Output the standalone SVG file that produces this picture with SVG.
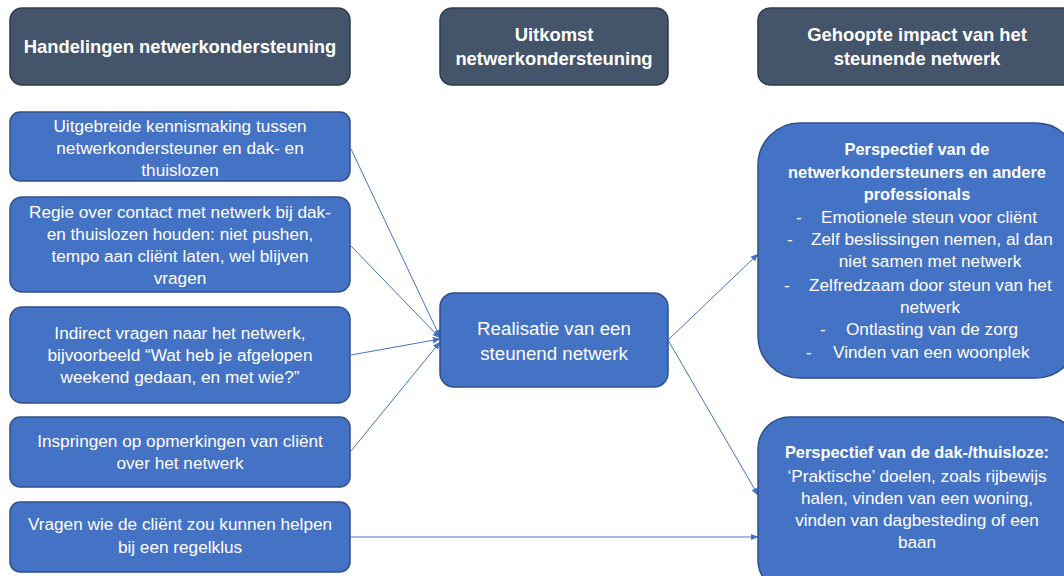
<svg xmlns="http://www.w3.org/2000/svg" width="1064" height="576" viewBox="0 0 1064 576">
<style>
.hdr{fill:#44546A;stroke:#2F3B4C;stroke-width:1.5}
.box{fill:#4472C4;stroke:#2F4F8A;stroke-width:1.5}
text{font-family:"Liberation Sans",Arial,sans-serif;fill:#fff}
.ht{font-size:18.4px;font-weight:bold;text-anchor:middle}
.t{font-size:17.2px;text-anchor:middle}
.tb{font-size:16.4px;font-weight:bold;text-anchor:middle}
.ts{font-size:17.2px}
.big{font-size:18.7px;text-anchor:middle}
.con{stroke:#4472C4;stroke-width:1;fill:none;marker-end:url(#ah)}
</style>
<defs>
<marker id="ah" viewBox="0 0 10 10" refX="9" refY="5" markerWidth="8" markerHeight="8" markerUnits="userSpaceOnUse" orient="auto">
<path d="M0,1 L10,5 L0,9 z" fill="#4472C4"/>
</marker>
</defs>
<rect width="1064" height="576" fill="#fff"/>
<g id="connectors">
<line class="con" x1="351" y1="149" x2="440" y2="337"/>
<line class="con" x1="351" y1="246" x2="440" y2="338"/>
<line class="con" x1="351" y1="355" x2="440" y2="339"/>
<line class="con" x1="351" y1="451" x2="440" y2="342"/>
<line class="con" x1="668" y1="340" x2="758" y2="254"/>
<line class="con" x1="668" y1="340" x2="758" y2="495"/>
<line class="con" x1="351" y1="537" x2="758" y2="537"/>
</g>
<g id="hdr-left">
<rect class="hdr" x="10" y="8" width="340" height="77" rx="12"/>
<text class="ht" x="180" y="53">Handelingen netwerkondersteuning</text>
</g>
<g id="hdr-mid">
<rect class="hdr" x="440" y="8" width="228" height="77" rx="12"/>
<text class="ht" x="554" y="41">Uitkomst</text>
<text class="ht" x="554" y="65">netwerkondersteuning</text>
</g>
<g id="hdr-right">
<rect class="hdr" x="758" y="8" width="320" height="77" rx="12"/>
<text class="ht" x="917" y="41">Gehoopte impact van het</text>
<text class="ht" x="917" y="65">steunende netwerk</text>
</g>
<g id="n1">
<rect class="box" x="10" y="112" width="340" height="69" rx="10"/>
<text class="t" x="180" y="132">Uitgebreide kennismaking tussen</text>
<text class="t" x="180" y="154">netwerkondersteuner en dak- en</text>
<text class="t" x="180" y="176">thuislozen</text>
</g>
<g id="n2">
<rect class="box" x="10" y="197" width="340" height="95" rx="12"/>
<text class="t" x="180" y="218">Regie over contact met netwerk bij dak-</text>
<text class="t" x="180" y="240">en thuislozen houden: niet pushen,</text>
<text class="t" x="180" y="262">tempo aan cliënt laten, wel blijven</text>
<text class="t" x="180" y="284">vragen</text>
</g>
<g id="n3">
<rect class="box" x="10" y="307" width="340" height="96" rx="12"/>
<text class="t" x="180" y="339">Indirect vragen naar het netwerk,</text>
<text class="t" x="180" y="361">bijvoorbeeld “Wat heb je afgelopen</text>
<text class="t" x="180" y="383">weekend gedaan, en met wie?”</text>
</g>
<g id="n4">
<rect class="box" x="10" y="417" width="340" height="70" rx="10"/>
<text class="t" x="180" y="447">Inspringen op opmerkingen van cliënt</text>
<text class="t" x="180" y="469">over het netwerk</text>
</g>
<g id="n5">
<rect class="box" x="10" y="502" width="340" height="70" rx="10"/>
<text class="t" x="180" y="530">Vragen wie de cliënt zou kunnen helpen</text>
<text class="t" x="180" y="553">bij een regelklus</text>
</g>
<g id="mid">
<rect class="box" x="440" y="293" width="228" height="94" rx="14"/>
<text class="big" x="554" y="335">Realisatie van een</text>
<text class="big" x="554" y="360">steunend netwerk</text>
</g>
<g id="r1">
<rect class="box" x="758" y="123" width="320" height="255" rx="42"/>
<text class="tb" x="917" y="155">Perspectief van de</text>
<text class="tb" x="917" y="178">netwerkondersteuners en andere</text>
<text class="tb" x="917" y="200">professionals</text>
<text class="ts" x="796" y="223">-</text><text class="ts" x="821" y="223">Emotionele steun voor cliënt</text>
<text class="ts" x="787" y="245">-</text><text class="ts" x="811" y="245">Zelf beslissingen nemen, al dan</text>
<text class="t" x="930" y="267">niet samen met netwerk</text>
<text class="ts" x="784" y="291">-</text><text class="ts" x="809" y="291">Zelfredzaam door steun van het</text>
<text class="t" x="930" y="313">netwerk</text>
<text class="ts" x="820" y="335">-</text><text class="ts" x="846" y="335">Ontlasting van de zorg</text>
<text class="ts" x="806" y="358">-</text><text class="ts" x="833" y="358">Vinden van een woonplek</text>
</g>
<g id="r2">
<rect class="box" x="758" y="417" width="320" height="175" rx="32"/>
<text class="tb" x="917" y="458">Perspectief van de dak-/thuisloze:</text>
<text class="t" x="917" y="482">‘Praktische’ doelen, zoals rijbewijs</text>
<text class="t" x="917" y="504">halen, vinden van een woning,</text>
<text class="t" x="917" y="526">vinden van dagbesteding of een</text>
<text class="t" x="917" y="548">baan</text>
</g>
</svg>
